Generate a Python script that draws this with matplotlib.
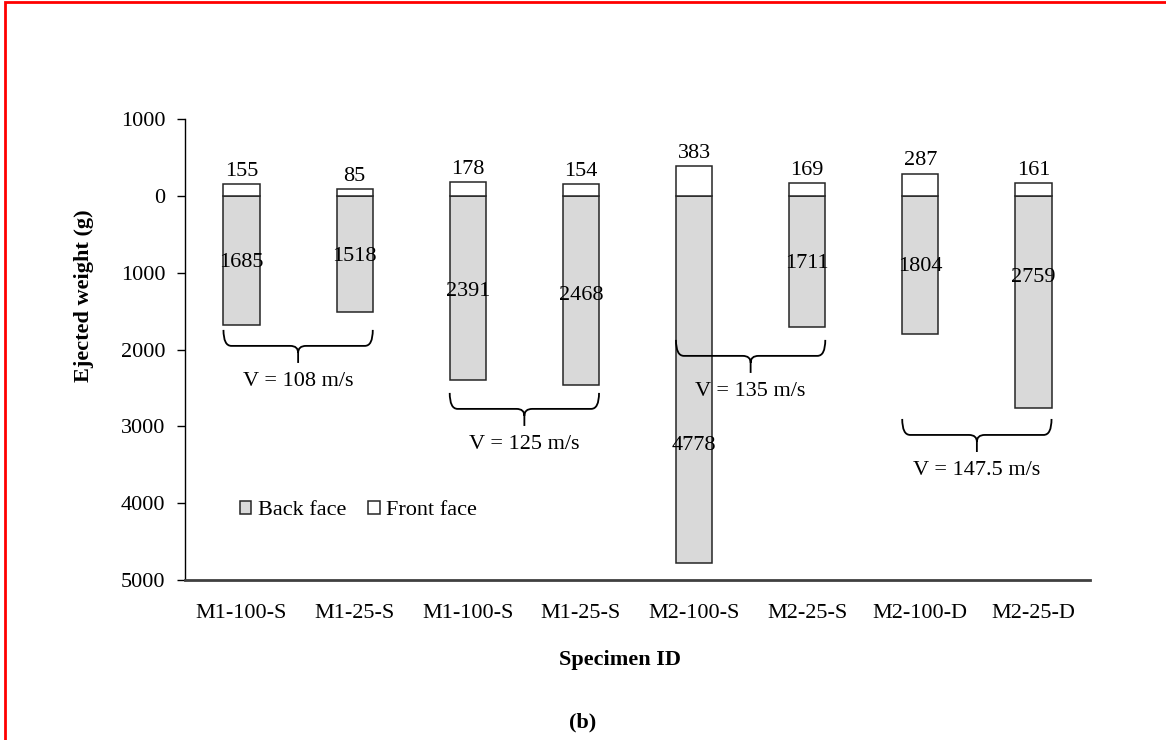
import numpy as np
import matplotlib
matplotlib.use('Agg')
import matplotlib.pyplot as plt
import matplotlib.patches as mpatches
from matplotlib.path import Path
from matplotlib.ticker import FuncFormatter

plt.rcParams['font.family'] = ['Liberation Serif', 'DejaVu Serif']

# data
specimens = ['M1-100-S', 'M1-25-S', 'M1-100-S', 'M1-25-S',
             'M2-100-S', 'M2-25-S', 'M2-100-D', 'M2-25-D']
back_face = [1685, 1518, 2391, 2468, 4778, 1711, 1804, 2759]
front_face = [155, 85, 178, 154, 383, 169, 287, 161]
# where the back-face value labels sit (manually placed in the original)
back_label_y = [872, 794, 1250, 1302, 3255, 885, 924, 1068]

groups = [(0, 1), (2, 3), (4, 5), (6, 7)]
group_labels = ['V = 108 m/s', 'V = 125 m/s', 'V = 135 m/s', 'V = 147.5 m/s']
bracket_top = [1745, 2565, 1875, 2904]

FS = 16
W = 0.32
GREY = '#d9d9d9'
EDGE = '#262626'

fig = plt.figure(figsize=(11.66, 7.4), dpi=100)
ax = fig.add_axes([185/1166, 1 - 580/740, 905/1166, 461/740])

x = np.arange(len(specimens))
ax.bar(x, back_face, W, color=GREY, edgecolor=EDGE, lw=1.1, label='Back face')
ax.bar(x, [-v for v in front_face], W, color='white', edgecolor=EDGE, lw=1.1,
       label='Front face')

for i in range(len(specimens)):
    ax.text(x[i], back_label_y[i], str(back_face[i]), ha='center', va='center',
            fontsize=FS)
    ax.annotate(str(front_face[i]), (x[i], -front_face[i]), xytext=(0, 6),
                textcoords='offset points', ha='center', va='baseline',
                fontsize=FS)


def brace(xl, xr, y0, dy=208, tip=430):
    # curly brace opening upwards, ends at y0, point at y0 + tip
    yl = y0 + dy
    xm = (xl + xr) / 2
    rx = 0.07
    ym = yl + 90
    verts = [(xl, y0), (xl, yl), (xl + rx, yl),
             (xm - rx, yl), (xm, yl), (xm, ym),
             (xm, y0 + tip),
             (xm, ym), (xm, yl), (xm + rx, yl),
             (xr - rx, yl), (xr, yl), (xr, y0)]
    codes = [Path.MOVETO, Path.CURVE3, Path.CURVE3,
             Path.LINETO, Path.CURVE3, Path.CURVE3,
             Path.LINETO,
             Path.MOVETO, Path.CURVE3, Path.CURVE3,
             Path.LINETO, Path.CURVE3, Path.CURVE3]
    ax.add_patch(mpatches.PathPatch(Path(verts, codes), fill=False,
                                    edgecolor='black', lw=1.3))


for (a, b), lbl, yt in zip(groups, group_labels, bracket_top):
    xl = x[a] - W / 2
    xr = x[b] + W / 2
    brace(xl, xr, yt)
    ax.text((xl + xr) / 2, yt + 677, lbl, ha='center', va='center', fontsize=FS)

ax.set_xlim(-0.5, len(specimens) - 0.5)
ax.set_ylim(5000, -1000)
ax.set_yticks(range(-1000, 5001, 1000))
ax.yaxis.set_major_formatter(FuncFormatter(lambda v, p: f'{abs(int(v))}'))
ax.set_xticks(x)
ax.set_xticklabels(specimens)
ax.tick_params(axis='x', length=0, pad=17, labelsize=FS)
ax.tick_params(axis='y', length=6, width=1, pad=8, labelsize=FS)

for s in ['top', 'right']:
    ax.spines[s].set_visible(False)
ax.spines['left'].set_color('black')
ax.spines['left'].set_linewidth(1)
ax.spines['bottom'].set_color('#404040')
ax.spines['bottom'].set_linewidth(2)

ax.legend(loc='center left', bbox_to_anchor=(0.051, 0.15), ncol=2,
          frameon=False, fontsize=FS, handlelength=0.5, handleheight=0.5,
          handletextpad=0.3, columnspacing=1.0, borderaxespad=0)

fig.text(84/1166, 1 - 296/740, 'Ejected weight (g)', rotation=90,
         ha='center', va='center', fontsize=FS, fontweight='bold')
fig.text(620/1166, 1 - 660/740, 'Specimen ID', ha='center', va='center',
         fontsize=FS, fontweight='bold')
fig.text(0.5, 1 - 722/740, '(b)', ha='center', va='center',
         fontsize=FS, fontweight='bold')

# red frame (only left and top edges are inside the picture)
fig.patches.append(mpatches.Rectangle((5/1166, -0.1), 1.2, 1.1 - 1.5/740,
                                      transform=fig.transFigure, fill=False,
                                      edgecolor='#ff0000', lw=2))

fig.savefig('out.png', dpi=100)
